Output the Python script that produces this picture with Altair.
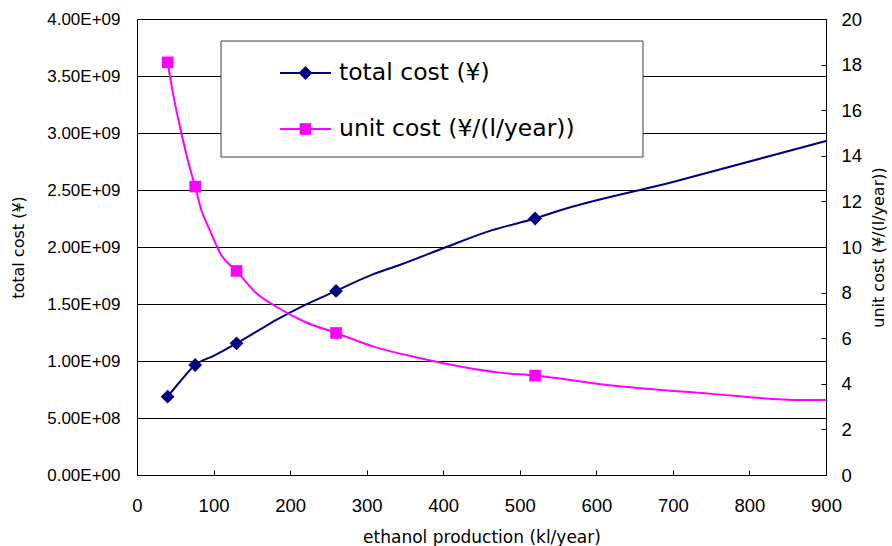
import altair as alt
import pandas as pd

# Marked observations (ethanol production in kl/year)
production = [40, 76, 130, 260, 520]
total_cost = [6.87e8, 9.65e8, 1.155e9, 1.615e9, 2.25e9]
unit_cost = [18.1, 12.65, 8.95, 6.23, 4.36]

# Fitted cost curves
total_curve_x = [40, 56, 76, 100, 130, 156, 182, 219, 260, 308, 343, 404, 465, 520, 552, 700, 900]
total_curve_y = [6.87e8, 8.18e8, 9.65e8, 1.045e9, 1.155e9, 1.257e9, 1.36e9, 1.49e9, 1.615e9,
                 1.76e9, 1.842e9, 2.0e9, 2.15e9, 2.25e9, 2.32e9, 2.57e9, 2.93e9]
unit_curve_x = [40, 47, 58, 71, 76, 84, 95, 110, 130, 156, 182, 219, 260, 309, 370, 474, 520,
                614, 744, 866, 900]
unit_curve_y = [18.1, 16.74, 14.99, 13.23, 12.65, 11.62, 10.75, 9.65, 8.95, 7.97, 7.38, 6.72,
                6.23, 5.63, 5.12, 4.49, 4.36, 3.95, 3.58, 3.29, 3.29]

x_ticks = list(range(0, 901, 100))
left_ticks = [i * 5e8 for i in range(9)]
right_ticks = list(range(0, 21, 2))

legend_labels = ["total cost (¥)", "unit cost (¥/(l/year))"]

NAVY = "#000080"
MAGENTA = "#FF00FF"
TICK_FONT = "Liberation Sans"
TEXT_FONT = "DejaVu Sans"
DIAMOND_SIZE = 190
SQUARE_SIZE = 135

pts = pd.DataFrame({"production": production, "total_cost": total_cost, "unit_cost": unit_cost})
total_curve = pd.DataFrame({"production": total_curve_x, "total_cost": total_curve_y})
unit_curve = pd.DataFrame({"production": unit_curve_x, "unit_cost": unit_curve_y})

x_scale = alt.Scale(domain=[0, 900], nice=False, zero=True)
left_scale = alt.Scale(domain=[0, 4e9], nice=False)
right_scale = alt.Scale(domain=[0, 20], nice=False)

x_axis = alt.Axis(
    values=x_ticks, grid=False, domain=False, ticks=True, tickSize=5, tickColor="black",
    offset=-5, labelPadding=21, labelFlush=False, labelOverlap=False,
    labelFont=TICK_FONT, labelFontSize=18.5, labelColor="black",
    title="ethanol production (kl/year)", titleFont=TEXT_FONT, titleFontSize=17,
    titleFontWeight="normal", titleColor="black", titleX=344.5, titleY=67,
    titleAlign="center", titleBaseline="middle",
)

sci_label = (
    "datum.value == 0 ? '0.00E+00' : datum.value < 1e9 ? "
    "format(datum.value / 1e8, '.2f') + 'E+08' : format(datum.value / 1e9, '.2f') + 'E+09'"
)

left_axis = alt.Axis(
    orient="left", values=left_ticks, labelExpr=sci_label, grid=True, gridColor="black",
    gridWidth=1, gridOpacity=1, domain=False, ticks=False, labelPadding=17,
    labelFlush=False, labelOverlap=False,
    labelFont=TICK_FONT, labelFontSize=17, labelColor="black",
    title="total cost (¥)", titleFont=TEXT_FONT, titleFontSize=16, titleFontWeight="normal",
    titleColor="black", titleX=-119, titleY=228, titleAngle=270, titleAlign="center",
    titleBaseline="middle",
)

right_axis = alt.Axis(
    orient="right", values=right_ticks, grid=False, domain=False, ticks=True, tickSize=5,
    tickColor="black", offset=-5, labelPadding=15, labelFlush=False, labelOverlap=False,
    labelFont=TICK_FONT, labelFontSize=18.5, labelColor="black",
    title="unit cost (¥/(l/year))", titleFont=TEXT_FONT, titleFontSize=16,
    titleFontWeight="normal", titleColor="black", titleX=57, titleY=228, titleAngle=270,
    titleAlign="center", titleBaseline="middle",
)

one_row = pd.DataFrame({"k": [0]})

legend_box = alt.Chart(one_row).mark_rect(fill="white", stroke="#404040", strokeWidth=1).encode(
    x=alt.value(84), x2=alt.value(506), y=alt.value(22), y2=alt.value(138)
)

total_line = alt.Chart(total_curve).mark_line(color=NAVY, strokeWidth=2, interpolate="monotone").encode(
    x=alt.X("production:Q", scale=x_scale, axis=x_axis),
    y=alt.Y("total_cost:Q", scale=left_scale, axis=left_axis),
)
total_pts = alt.Chart(pts).mark_point(shape="diamond", filled=True, size=DIAMOND_SIZE, color=NAVY, opacity=1).encode(
    x=alt.X("production:Q", scale=x_scale),
    y=alt.Y("total_cost:Q", scale=left_scale),
)

unit_line = alt.Chart(unit_curve).mark_line(color=MAGENTA, strokeWidth=2, interpolate="monotone").encode(
    x=alt.X("production:Q", scale=x_scale),
    y=alt.Y("unit_cost:Q", scale=right_scale, axis=right_axis),
)
unit_pts = alt.Chart(pts).mark_point(shape="square", filled=True, size=SQUARE_SIZE, color=MAGENTA, opacity=1).encode(
    x=alt.X("production:Q", scale=x_scale),
    y=alt.Y("unit_cost:Q", scale=right_scale),
)

# Legend entries drawn inside the plot frame
legend_layers = []
for label, color, shape, size, row_y in [
    (legend_labels[0], NAVY, "diamond", DIAMOND_SIZE, 54),
    (legend_labels[1], MAGENTA, "square", SQUARE_SIZE, 110),
]:
    src = pd.DataFrame({"label": [label]})
    legend_layers.append(
        alt.Chart(src).mark_rule(color=color, strokeWidth=2).encode(
            x=alt.value(143), x2=alt.value(194), y=alt.value(row_y)
        )
    )
    legend_layers.append(
        alt.Chart(src).mark_point(shape=shape, filled=True, size=size, color=color, opacity=1).encode(
            x=alt.value(168.5), y=alt.value(row_y)
        )
    )
    legend_layers.append(
        alt.Chart(src).mark_text(align="left", baseline="middle", font=TEXT_FONT, fontSize=23.5, color="black").encode(
            x=alt.value(202), y=alt.value(row_y), text="label:N"
        )
    )

left_group = alt.layer(legend_box, total_line, total_pts)
right_group = alt.layer(unit_line, unit_pts)

chart = (
    alt.layer(left_group, right_group, *legend_layers)
    .resolve_scale(y="independent")
    .properties(
        width=689, height=456, autosize="none",
        padding={"left": 137, "top": 19, "right": 66, "bottom": 71},
        background="white",
    )
    .configure_view(stroke="black", strokeWidth=1)
)

chart.save("out.html", embed_options={"renderer": "svg", "actions": False})
